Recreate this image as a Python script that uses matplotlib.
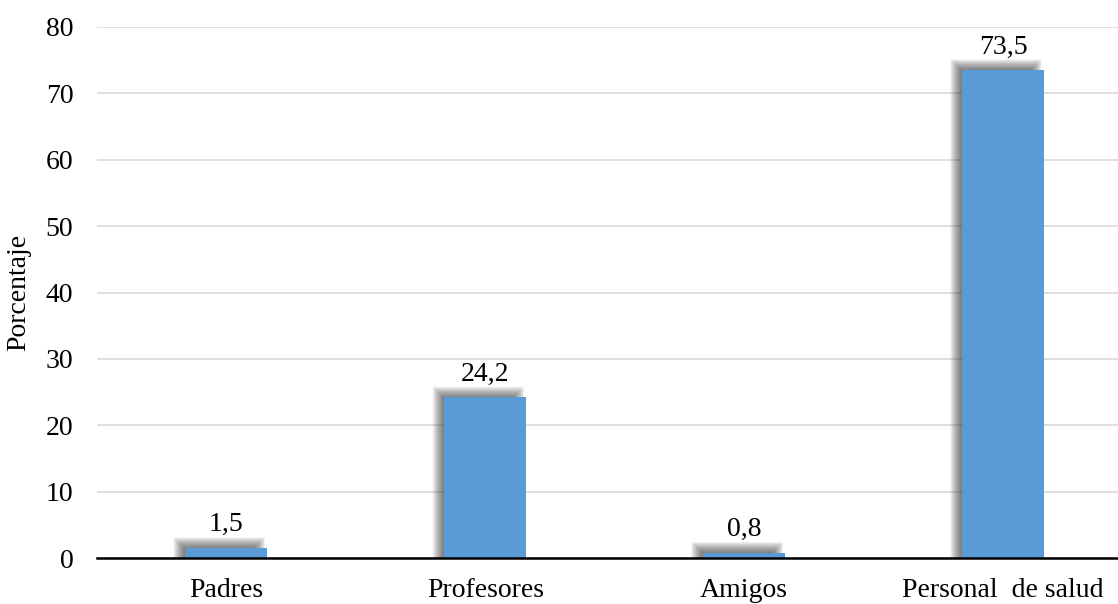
import numpy as np
import matplotlib.pyplot as plt
from matplotlib.patches import Rectangle

# Datos
categorias = ['Padres', 'Profesores', 'Amigos', 'Personal  de salud']
porcentajes = [1.5, 24.2, 0.8, 73.5]
etiquetas = ['1,5', '24,2', '0,8', '73,5']

plt.rcParams['font.family'] = ['Liberation Serif', 'DejaVu Serif']

fig = plt.figure(figsize=(11.18, 6.04), dpi=100)
ax = fig.add_axes([97 / 1118, 46 / 604, 1 - 97 / 1118, 531 / 604])

color_barra = '#5b9bd5'
ancho = 0.317
x = np.arange(len(categorias))

ax.set_xlim(-0.5, 3.444)
ax.set_ylim(0, 80)

# sombra difusa desplazada hacia arriba-izquierda
px_x = (ax.get_xlim()[1] - ax.get_xlim()[0]) / (1118 - 97)
px_y = 80 / 531
dx, dy = -7 * px_x, 6 * px_y
for xi, v in zip(x, porcentajes):
    for s in np.linspace(-6, 5, 34):
        ax.add_patch(Rectangle((xi - ancho / 2 + dx - s * px_x, 0),
                               ancho + 2 * s * px_x, v + dy + s * px_y,
                               facecolor='#303030', alpha=0.022,
                               edgecolor='none', zorder=2))

ax.bar(x, porcentajes, width=ancho, color=color_barra, zorder=3)

for xi, v, t in zip(x, porcentajes, etiquetas):
    ax.text(xi, v + 3.5, t, ha='center', va='center', fontsize=20, zorder=4)

ax.set_yticks(np.arange(0, 81, 10))
ax.set_xticks(x)
ax.set_xticklabels(categorias)
ax.tick_params(axis='both', length=0, labelsize=20)
ax.tick_params(axis='x', pad=14.5)
ax.tick_params(axis='y', pad=17)

ax.yaxis.grid(True, color='#d9d9d9', linewidth=1.2, zorder=0)
ax.set_axisbelow(True)
for lado in ['top', 'right', 'left']:
    ax.spines[lado].set_visible(False)
ax.spines['bottom'].set_linewidth(1.8)
ax.spines['bottom'].set_zorder(5)

ax.set_ylabel('Porcentaje', fontsize=20)
ax.yaxis.set_label_coords(-0.064, 0.5)

fig.savefig('out.png', dpi=100)
